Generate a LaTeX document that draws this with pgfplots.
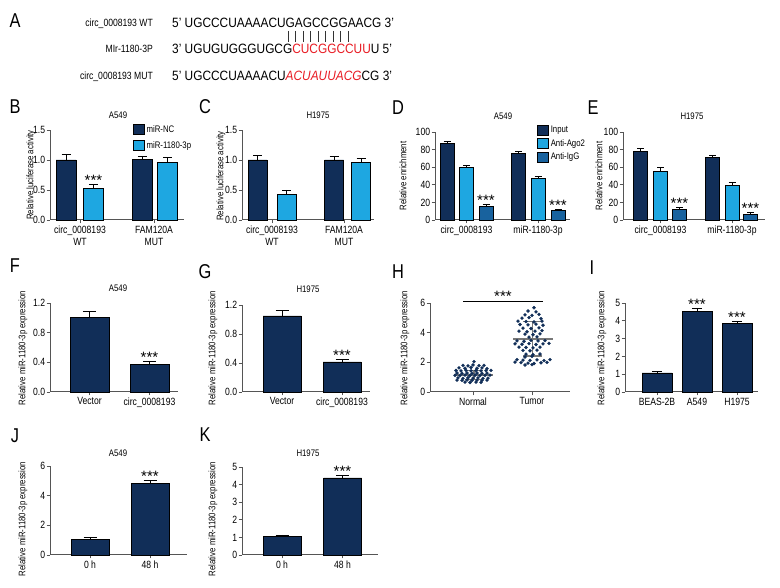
\documentclass[border=0pt]{standalone}
\usepackage{fontspec}
\setmainfont{Liberation Sans}[FakeStretch=0.82]
\newfontfamily\astfont{Liberation Sans}
\newfontfamily\seqfont{Liberation Sans}[FakeStretch=0.88]
\usepackage{pgfplots}
\pgfplotsset{compat=1.18}
\definecolor{navy}{RGB}{17,46,88}
\definecolor{lblue}{RGB}{30,167,225}
\definecolor{mblue}{RGB}{24,98,158}
\definecolor{axgray}{RGB}{85,85,85}
\definecolor{seqred}{RGB}{232,28,36}
\definecolor{mgray}{RGB}{120,120,120}
\newcommand{\fs}[1]{\fontsize{#1}{#1}\selectfont}
\pgfplotsset{
  panel/.style={scale only axis, anchor=south west,
    axis x line*=bottom, axis y line*=left,
    axis line style={draw=axgray, line width=1pt},
    tick style={draw=axgray, line width=0.8pt},
    tick align=outside, major tick length=3.5pt,
    ticklabel style={font=\fontsize{10.5}{12.5}\selectfont},
    yticklabel style={inner sep=1.2pt},
    xticklabel style={align=center, inner sep=2pt},
    /pgf/number format/assume math mode=true,
    xmin=0, ymin=0, clip=false,
  },
  onedec/.style={yticklabel style={/pgf/number format/.cd, fixed, fixed zerofill, precision=1}},
  eb/.style={error bars/.cd, y dir=plus, y explicit,
    error bar style={line width=0.8pt, draw=black},
    error mark options={rotate=90, line width=0.8pt, draw=black, mark size=#1}},
  bstyle/.style={ybar, bar shift=0pt, draw=black, line width=0.6pt, forget plot},
}
\newcommand{\stars}[2]{\node[anchor=base, inner sep=0pt, font=\astfont\fs{15}, yshift=-1pt] at (axis cs:#1,#2) {***};}
\newcommand{\legbox}[1]{\addlegendimage{legend image code/.code={\draw[fill=#1,draw=black,line width=0.5pt] (0pt,-5pt) rectangle (11pt,5pt);}}}

\begin{document}
\begin{tikzpicture}[x=1pt,y=1pt]
\useasboundingbox (0,0) rectangle (780,588);

% ---------- panel letters ----------
\foreach \l/\px/\py in {A/15/21, B/15/107, C/205/107, D/398/108, E/593/108, F/15/266, G/205/272, H/398/272, I/592/268, J/15/436, K/205/435}
  \node[font=\fs{20}, inner sep=0pt] at ({\px},{588-\py}) {\l};

% ---------- panel A ----------
\node[anchor=base east, inner sep=0pt, font=\fs{10.5}] at (153,{588-26.5}) {circ\_0008193 WT};
\node[anchor=base east, inner sep=0pt, font=\fs{10.5}] at (153,{588-52.8}) {MIr-1180-3P};
\node[anchor=base east, inner sep=0pt, font=\fs{10.5}] at (153,{588-79.8}) {circ\_0008193 MUT};
\node[anchor=base west, inner sep=0pt, font=\seqfont\fs{13.5}] at (172,{588-27.7}) {5’ UGCCCUAAAACUGAGCCGGAACG 3’};
\node[anchor=base west, inner sep=0pt, font=\seqfont\fs{13.5}] at (172,{588-54}) {3’ UGUGUGGGUGCG\textcolor{seqred}{CUCGGCCUU}U 5’};
\node[anchor=base west, inner sep=0pt, font=\seqfont\fs{13.5}] at (172,{588-81}) {5’ UGCCCUAAAACU\textcolor{seqred}{\itshape ACUAUUACG}CG 3’};
\foreach \i in {0,...,8}
  \draw[line width=0.6pt, black!80] ({288+7.5*\i},{588-31}) -- ({288+7.5*\i},{588-42});

% ---------- titles ----------
\foreach \t/\px/\py in {A549/118/115, H1975/318/115, A549/503/116, H1975/692/116, A549/118/288, H1975/308/289, A549/118/453, H1975/308/453}
  \node[font=\fs{9.5}, inner sep=0pt] at ({\px},{588-\py}) {\t};

% ---------- y labels ----------
\foreach \px/\py in {31/175, 221/176}
  \node[rotate=90, font=\fs{9.5}, inner sep=0pt] at ({\px},{588-\py}) {Relative luciferase activity};
\foreach \px/\py in {403/176, 599/176}
  \node[rotate=90, font=\fs{9.5}, inner sep=0pt] at ({\px},{588-\py}) {Relative enrichment};
\foreach \px/\py in {23/348, 213/348, 405/348, 602/348, 23/519, 213/519}
  \node[rotate=90, font=\fs{9.5}, inner sep=0pt] at ({\px},{588-\py}) {Relative miR-1180-3p expression};

% ---------- B ----------
\begin{axis}[panel, onedec, at={(50pt,368pt)}, width=134pt, height=90pt,
  xmax=134, ymax=1.5, ytick={0,0.5,1,1.5},
  xtick={30,104}, xticklabels={{circ\_0008193\\WT},{FAM120A\\MUT}},
  legend style={at={(rel axis cs:0.619,1.078)}, anchor=north west, draw=none, fill=none,
    inner sep=0pt, row sep=4pt, font=\fs{9.5}}, legend cell align=left]
\addplot[bstyle, bar width=20, fill=navy, eb=4.5pt] coordinates {(16,1.0) +- (0,0.1) (92,1.01) +- (0,0.045)};
\addplot[bstyle, bar width=20, fill=lblue, eb=4.5pt] coordinates {(43.5,0.53) +- (0,0.065) (117.5,0.955) +- (0,0.085)};
\stars{43.5}{0.595}
\legbox{navy}\addlegendentry{miR-NC}
\legbox{lblue}\addlegendentry{miR-1180-3p}
\end{axis}

% ---------- C ----------
\begin{axis}[panel, onedec, at={(242pt,368pt)}, width=132pt, height=90pt,
  xmax=132, ymax=1.5, ytick={0,0.5,1,1.5},
  xtick={30,102}, xticklabels={{circ\_0008193\\WT},{FAM120A\\MUT}}]
\addplot[bstyle, bar width=19, fill=navy, eb=4.5pt] coordinates {(15.5,1.0) +- (0,0.07) (92,1.0) +- (0,0.055)};
\addplot[bstyle, bar width=19, fill=lblue, eb=4.5pt] coordinates {(44.5,0.43) +- (0,0.07) (119,0.955) +- (0,0.075)};
\end{axis}

% ---------- D ----------
\begin{axis}[panel, at={(435pt,368pt)}, width=135pt, height=88pt,
  xmax=135, ymax=100, ytick={0,20,40,60,80,100},
  xtick={31.5,103}, xticklabels={circ\_0008193,miR-1180-3p},
  legend style={at={(rel axis cs:0.756,1.09)}, anchor=north west, draw=none, fill=none,
    inner sep=0pt, row sep=1pt, font=\fs{9.5}}, legend cell align=left]
\addplot[bstyle, bar width=14, fill=navy, eb=3.5pt] coordinates {(12,86.8) +- (0,2.6) (83.5,75.3) +- (0,2.2)};
\addplot[bstyle, bar width=14, fill=lblue, eb=3.5pt] coordinates {(31.5,59.5) +- (0,2.6) (103,47.2) +- (0,1.8)};
\addplot[bstyle, bar width=14, fill=mblue, eb=3.5pt] coordinates {(51,15.8) +- (0,2.0) (123,11.2) +- (0,1.2)};
\stars{51}{17.8}
\stars{123}{12.4}
\legbox{navy}\addlegendentry{Input}
\legbox{lblue}\addlegendentry{Anti-Ago2}
\legbox{mblue}\addlegendentry{Anti-IgG}
\end{axis}

% ---------- E ----------
\begin{axis}[panel, at={(623pt,368pt)}, width=142pt, height=88pt,
  xmax=142, ymax=100, ytick={0,20,40,60,80,100},
  xtick={37.5,109}, xticklabels={circ\_0008193,miR-1180-3p}]
\addplot[bstyle, bar width=14, fill=navy, eb=3.5pt] coordinates {(17.5,78.1) +- (0,3.0) (89.5,70.9) +- (0,2.7)};
\addplot[bstyle, bar width=14, fill=lblue, eb=3.5pt] coordinates {(37.5,55.5) +- (0,4.1) (109,39.6) +- (0,3.0)};
\addplot[bstyle, bar width=14, fill=mblue, eb=3.5pt] coordinates {(56.5,12.1) +- (0,2.2) (127.5,6.8) +- (0,1.9)};
\stars{56.5}{14.3}
\stars{127.5}{8.7}
\end{axis}

% ---------- F ----------
\begin{axis}[panel, onedec, at={(50pt,196pt)}, width=128pt, height=89pt,
  xmax=128, ymax=1.2, ytick={0,0.4,0.8,1.2},
  xtick={39.5,99.5}, xticklabels={Vector,circ\_0008193}]
\addplot[bstyle, bar width=39, fill=navy, eb=6.5pt] coordinates {(39.5,1.01) +- (0,0.08) (99.5,0.376) +- (0,0.035)};
\stars{99.5}{0.411}
\end{axis}

% ---------- G ----------
\begin{axis}[panel, onedec, at={(242pt,196pt)}, width=128pt, height=87pt,
  xmax=128, ymax=1.2, ytick={0,0.4,0.8,1.2},
  xtick={40,100}, xticklabels={Vector,circ\_0008193}]
\addplot[bstyle, bar width=38, fill=navy, eb=6.5pt] coordinates {(40,1.05) +- (0,0.08) (100,0.415) +- (0,0.033)};
\stars{100}{0.448}
\end{axis}

% ---------- H ----------
\begin{axis}[panel, at={(430pt,196pt)}, width=140pt, height=89pt,
  xmax=140, ymax=6, ytick={0,2,4,6},
  xtick={43,102}, xticklabels={Normal,Tumor}]
\addplot[only marks, mark=*, mark size=1.5pt, mark options={fill=navy, draw=navy}] coordinates {
(44,2.05)
(33,1.80) (38,1.76) (43,1.82) (49,1.78) (54,1.80)
(29,1.62) (35,1.60) (41,1.65) (47,1.60) (52,1.62) (57,1.58)
(26,1.45) (31,1.42) (36,1.46) (41,1.43) (46,1.45) (51,1.42) (56,1.44) (61,1.46)
(27,1.28) (32,1.25) (37,1.28) (42,1.26) (47,1.28) (52,1.25) (57,1.27)
(25,1.12) (30,1.10) (35,1.14) (40,1.11) (45,1.13) (50,1.10) (55,1.12) (60,1.14)
(28,0.95) (33,0.92) (38,0.96) (43,0.93) (48,0.95) (53,0.92) (58,0.94)
(27,0.80) (32,0.78) (37,0.81) (42,0.79) (47,0.80) (52,0.78) (57,0.80)
(35,0.66) (40,0.64) (46,0.66) (51,0.65)
};
\addplot[only marks, mark=*, mark size=1.5pt, mark options={fill=navy, draw=navy}] coordinates {
(104,5.68)
(98,5.46) (106,5.40)
(95,5.20) (102,5.16) (109,5.23)
(92,4.98) (99,5.02) (111,4.95)
(88,4.78) (96,4.75) (104,4.72) (112,4.78)
(90,4.55) (98,4.52) (106,4.58) (113,4.50)
(93,4.30) (101,4.28) (109,4.32)
(89,4.10) (97,4.06) (105,4.10) (112,4.14)
(95,3.90) (103,3.86) (110,3.92)
(99,3.70) (107,3.72)
(87,3.45) (94,3.42) (101,3.48) (108,3.44) (115,3.46)
(85,3.25) (92,3.22) (99,3.26) (106,3.20) (113,3.24) (119,3.28)
(89,3.02) (96,3.00) (103,2.98) (110,3.03)
(93,2.80) (100,2.78) (107,2.82)
(96,2.55) (103,2.52) (110,2.56)
(95,2.36) (102,2.40)
(87,2.18) (93,2.15) (100,2.13) (107,2.16) (114,2.12) (120,2.18)
(85,2.02) (91,1.98) (98,1.95) (104,1.92) (111,1.97) (117,2.00)
(95,1.82) (102,1.85)
};
\addplot[mgray, line width=1.2pt] coordinates {(24,1.15) (63,1.15)};
\addplot[mgray, line width=1.2pt] coordinates {(35,1.47) (53,1.47)};
\addplot[mgray, line width=1.2pt] coordinates {(35,0.85) (53,0.85)};
\addplot[mgray, line width=1.2pt] coordinates {(44,0.85) (44,1.47)};
\addplot[mgray, line width=1.2pt] coordinates {(83,3.57) (123,3.57)};
\addplot[mgray, line width=1.2pt] coordinates {(93,4.77) (112,4.77)};
\addplot[mgray, line width=1.2pt] coordinates {(93,2.42) (112,2.42)};
\addplot[mgray, line width=1.2pt] coordinates {(102.5,2.42) (102.5,4.77)};
\addplot[black, line width=0.8pt] coordinates {(33,6.14) (113,6.14)};
\stars{73}{6.14}
\end{axis}

% ---------- I ----------
\begin{axis}[panel, at={(625pt,196pt)}, width=133pt, height=89pt,
  xmax=133, ymax=5, ytick={0,1,2,3,4,5},
  xtick={32,72,112}, xticklabels={BEAS-2B,A549,H1975}]
\addplot[bstyle, bar width=30, fill=navy, eb=5pt] coordinates {(32,1.07) +- (0,0.1) (72,4.55) +- (0,0.13) (112,3.84) +- (0,0.1)};
\stars{72}{4.68}
\stars{112}{3.94}
\end{axis}

% ---------- J ----------
\begin{axis}[panel, at={(50pt,33pt)}, width=137pt, height=89pt,
  xmax=137, ymax=6, ytick={0,2,4,6},
  xtick={40,100}, xticklabels={0 h,48 h}]
\addplot[bstyle, bar width=38, fill=navy, eb=6.5pt] coordinates {(40,1.06) +- (0,0.12) (100,4.83) +- (0,0.17)};
\stars{100}{5.0}
\end{axis}

% ---------- K ----------
\begin{axis}[panel, at={(242pt,33pt)}, width=136pt, height=88pt,
  xmax=136, ymax=5, ytick={0,1,2,3,4,5},
  xtick={40,100.5}, xticklabels={0 h,48 h}]
\addplot[bstyle, bar width=38, fill=navy, eb=6.5pt] coordinates {(40,1.04) +- (0,0.1) (100.5,4.38) +- (0,0.12)};
\stars{100.5}{4.5}
\end{axis}
\end{tikzpicture}
\end{document}
